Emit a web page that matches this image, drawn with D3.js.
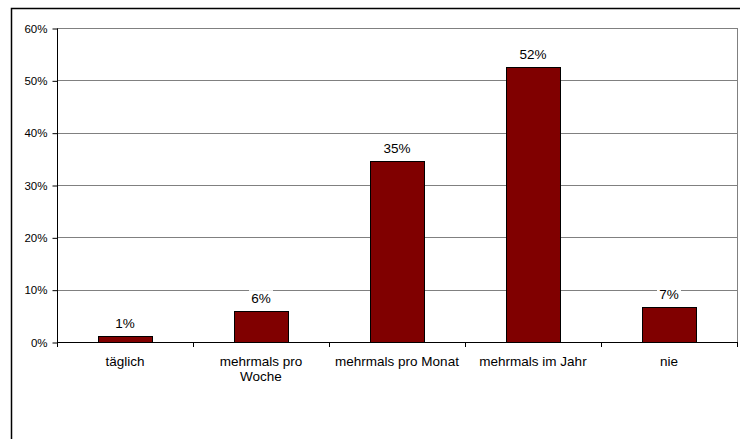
<!DOCTYPE html>
<html>
<head>
<meta charset="utf-8">
<script src="https://cdn.jsdelivr.net/npm/d3@7"></script>
<style>
  body { margin: 0; background: #fff; }
  svg { display: block; font-family: "Liberation Sans", Arial, sans-serif; }
</style>
</head>
<body>
<div id="chart"></div>
<script>
// Häufigkeit, Anteil der Antworten
let categories = ['täglich', 'mehrmals pro Woche', 'mehrmals pro Monat', 'mehrmals im Jahr', 'nie'];
let labelLines = [['täglich'], ['mehrmals pro', 'Woche'], ['mehrmals pro Monat'], ['mehrmals im Jahr'], ['nie']];
let values = [0.011, 0.059, 0.346, 0.525, 0.066];
let valueLabels = ['1%', '6%', '35%', '52%', '7%'];
let yTicks = [0, 0.1, 0.2, 0.3, 0.4, 0.5, 0.6];

let width = 740;
let height = 439;
let margin = { top: 28, right: 3, bottom: 97, left: 57 };

let svg = d3.select('#chart').append('svg')
  .attr('width', width)
  .attr('height', height);

// outer frame (runs off the right and bottom edge)
svg.append('rect')
  .attr('x', 11.5)
  .attr('y', 8.5)
  .attr('width', width)
  .attr('height', height)
  .attr('fill', 'none')
  .attr('stroke', '#000')
  .attr('stroke-width', 1.5);

let x = d3.scaleBand()
  .domain(categories)
  .range([margin.left, width - margin.right])
  .paddingInner(0.6)
  .paddingOuter(0.3);

let y = d3.scaleLinear()
  .domain([0, 0.6])
  .range([height - margin.bottom, margin.top]);

let x0 = margin.left;
let x1 = width - margin.right;

// gridlines
svg.append('g')
  .selectAll('line')
  .data(yTicks.slice(1))
  .join('line')
  .attr('x1', x0)
  .attr('x2', x1)
  .attr('y1', d => Math.round(y(d)) + 0.5)
  .attr('y2', d => Math.round(y(d)) + 0.5)
  .attr('stroke', '#808080');

// right border of plot area
svg.append('line')
  .attr('x1', x1 + 0.5)
  .attr('x2', x1 + 0.5)
  .attr('y1', y(0.6))
  .attr('y2', y(0))
  .attr('stroke', '#808080');

// bars
svg.append('g')
  .selectAll('rect')
  .data(values)
  .join('rect')
  .attr('x', (d, i) => Math.round(x(categories[i])) + 0.5)
  .attr('y', d => Math.round(y(d)) + 0.5)
  .attr('width', Math.round(x.bandwidth()))
  .attr('height', d => Math.round(y(0)) - Math.round(y(d)))
  .attr('fill', '#800000')
  .attr('stroke', '#000');

// y axis
let yAxis = d3.axisLeft(y)
  .tickValues(yTicks)
  .tickFormat(d3.format('.0%'))
  .tickSize(5)
  .tickPadding(5);

let gy = svg.append('g')
  .attr('transform', 'translate(' + (x0 + 0.5) + ',0.5)')
  .call(yAxis);
gy.select('.domain').attr('stroke', '#000').attr('d', 'M0,' + y(0.6) + 'V' + y(0));
gy.selectAll('.tick line').attr('stroke', '#000');
gy.selectAll('.tick text')
  .attr('fill', '#000')
  .style('font-size', '11.5px')
  .style('font-family', '"Liberation Sans", Arial, sans-serif');

// x axis: line with ticks at category boundaries
let boundaries = d3.range(categories.length + 1).map(i => x0 + i * (x1 - x0) / categories.length);
svg.append('line')
  .attr('x1', x0)
  .attr('x2', x1 + 1)
  .attr('y1', Math.round(y(0)) + 0.5)
  .attr('y2', Math.round(y(0)) + 0.5)
  .attr('stroke', '#000');
svg.append('g')
  .selectAll('line')
  .data(boundaries)
  .join('line')
  .attr('x1', d => Math.round(d) + 0.5)
  .attr('x2', d => Math.round(d) + 0.5)
  .attr('y1', Math.round(y(0)))
  .attr('y2', Math.round(y(0)) + 5)
  .attr('stroke', '#000');

// category labels
let catText = svg.append('g')
  .selectAll('text')
  .data(labelLines)
  .join('text')
  .attr('text-anchor', 'middle')
  .attr('font-size', 13.5)
  .attr('fill', '#000')
  .attr('x', (d, i) => x(categories[i]) + x.bandwidth() / 2)
  .attr('y', y(0) + 24);
catText.selectAll('tspan')
  .data(d => d)
  .join('tspan')
  .attr('x', function () { return d3.select(this.parentNode).attr('x'); })
  .attr('dy', (d, i) => i === 0 ? 0 : 15)
  .text(d => d);

// value labels with white background
let vl = svg.append('g')
  .selectAll('g')
  .data(values)
  .join('g')
  .attr('transform', (d, i) => 'translate(' + (x(categories[i]) + x.bandwidth() / 2) + ',' + (y(d) - 8) + ')');
vl.append('rect')
  .attr('x', (d, i) => -valueLabels[i].length * 4.5 - 3)
  .attr('y', -13)
  .attr('width', (d, i) => valueLabels[i].length * 9 + 6)
  .attr('height', 15)
  .attr('fill', '#fff');
vl.append('text')
  .attr('text-anchor', 'middle')
  .attr('font-size', 13.5)
  .attr('fill', '#000')
  .text((d, i) => valueLabels[i]);
</script>
</body>
</html>
